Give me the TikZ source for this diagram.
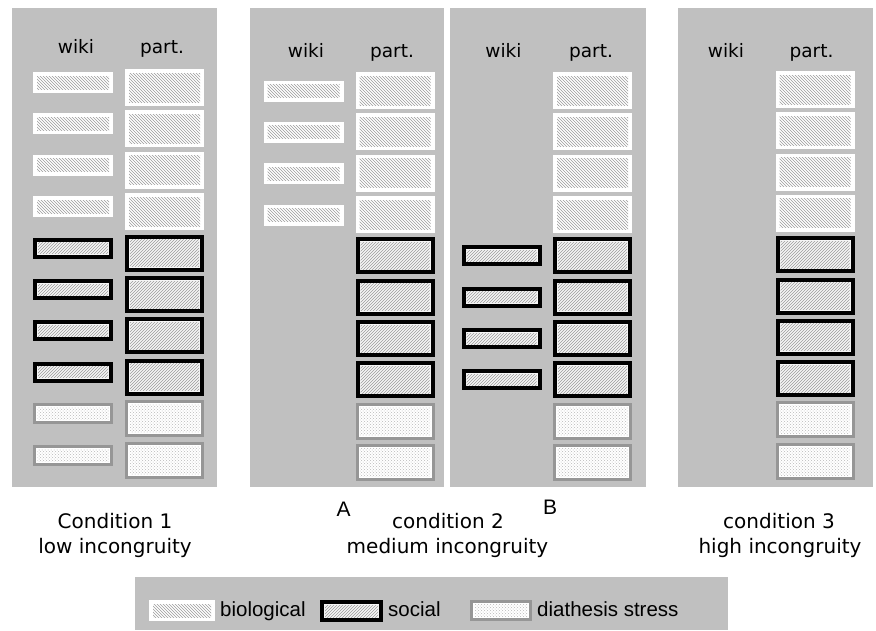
\documentclass[tikz,border=0pt]{standalone}
\usepackage{fontspec}
\setmainfont{DejaVu Sans}
\newfontfamily\arialf{Liberation Sans}
\usetikzlibrary{patterns}
\definecolor{panelgray}{RGB}{192,192,192}
\definecolor{diagray}{RGB}{150,150,150}
\definecolor{hatchgray}{RGB}{155,155,155}
\begin{document}
\begin{tikzpicture}[x=1pt,y=-1pt,
  panel/.style={fill=panelgray,draw=none},
  bio/.style={fill=white,draw=none,inner sep=0pt,
    path picture={\fill[pattern=north west lines,pattern color=hatchgray]
      ([shift={(4pt,-4pt)}]path picture bounding box.north west) rectangle
      ([shift={(-4pt,4pt)}]path picture bounding box.south east);}},
  soc/.style={fill=gray!8,draw=black,line width=4pt,inner sep=0pt,
    path picture={\fill[pattern=north east lines,pattern color=hatchgray]
      ([shift={(3pt,-3pt)}]path picture bounding box.north west) rectangle
      ([shift={(-3pt,3pt)}]path picture bounding box.south east);}},
  dia/.style={fill=white,draw=diagray,line width=3pt,inner sep=0pt,
    path picture={\fill[pattern=crosshatch dots,pattern color=gray!55]
      ([shift={(3pt,-3pt)}]path picture bounding box.north west) rectangle
      ([shift={(-3pt,3pt)}]path picture bounding box.south east);}},
  biopart/.style={bio,minimum width=79pt,minimum height=37pt},
  biowiki/.style={bio,minimum width=80pt,minimum height=21pt},
  socpart/.style={soc,minimum width=75pt,minimum height=33pt},
  socwiki/.style={soc,minimum width=76pt,minimum height=17pt},
  diapart/.style={dia,minimum width=76pt,minimum height=34pt},
  diawiki/.style={dia,minimum width=77pt,minimum height=18pt},
  head/.style={font=\fontsize{18.5}{22}\selectfont,anchor=base,inner sep=0pt},
  cond/.style={font=\fontsize{20}{24}\selectfont,anchor=base,inner sep=0pt},
  letter/.style={font=\arialf\fontsize{21}{24}\selectfont,anchor=center,inner sep=0pt},
  legtext/.style={font=\arialf\fontsize{20.5}{24}\selectfont,anchor=base west,inner sep=0pt}
]
\useasboundingbox (0,0) rectangle (876,630);
\fill[white] (0,0) rectangle (876,630);

% panels
\node[panel,minimum width=205pt,minimum height=479pt,inner sep=0pt,anchor=north west] (pan1) at (12,8) {};
\node[panel,minimum width=194pt,minimum height=479pt,inner sep=0pt,anchor=north west] (pan2a) at (250,8) {};
\node[panel,minimum width=196pt,minimum height=479pt,inner sep=0pt,anchor=north west] (pan2b) at (450,8) {};
\node[panel,minimum width=195pt,minimum height=479pt,inner sep=0pt,anchor=north west] (pan3) at (678,8) {};

% headers
\node[head] (h1w) at (76,53) {wiki};
\node[head] (h1p) at (162,53) {part.};
\node[head] (h2aw) at (306,57) {wiki};
\node[head] (h2ap) at (392,57) {part.};
\node[head] (h2bw) at (503.5,57) {wiki};
\node[head] (h2bp) at (591,57) {part.};
\node[head] (h3w) at (726,57) {wiki};
\node[head] (h3p) at (811.5,57) {part.};

% panel 1
\foreach \i in {0,...,3} {
  \node[biopart] (a\i) at (164.5,{87.5+41.4*\i}) {};
  \node[biowiki] (aw\i) at (73,{82.5+41.4*\i}) {};
}
\foreach \i in {4,...,7} {
  \node[socpart] (a\i) at (164.5,{87.5+41.4*\i}) {};
  \node[socwiki] (aw\i) at (73,{82.5+41.4*\i}) {};
}
\foreach \i in {8,9} {
  \node[diapart] (a\i) at (164.5,{87.5+41.4*\i}) {};
  \node[diawiki] (aw\i) at (73,{82.5+41.4*\i}) {};
}

% panel 2A
\foreach \i in {0,...,3} {
  \node[biopart] (b\i) at (395,{90.5+41.35*\i}) {};
  \node[biowiki] (bw\i) at (303.5,{91+41.35*\i}) {};
}
\foreach \i in {4,...,7} {
  \node[socpart] (b\i) at (395,{90.5+41.35*\i}) {};
}
\foreach \i in {8,9} {
  \node[diapart] (b\i) at (395,{90.5+41.35*\i}) {};
}

% panel 2B
\foreach \i in {0,...,3} {
  \node[biopart] (c\i) at (592.5,{90.5+41.35*\i}) {};
}
\foreach \i in {4,...,7} {
  \node[socpart] (c\i) at (592.5,{90.5+41.35*\i}) {};
  \node[socwiki] (cw\i) at (501.5,{90.5+41.35*\i}) {};
}
\foreach \i in {8,9} {
  \node[diapart] (c\i) at (592.5,{90.5+41.35*\i}) {};
}

% panel 3
\foreach \i in {0,...,3} {
  \node[biopart] (d\i) at (815,{89.5+41.3*\i}) {};
}
\foreach \i in {4,...,7} {
  \node[socpart] (d\i) at (815,{89.5+41.3*\i}) {};
}
\foreach \i in {8,9} {
  \node[diapart] (d\i) at (815,{89.5+41.3*\i}) {};
}

% condition labels
\node[cond] (c1a) at (115,528) {Condition 1};
\node[cond] (c1b) at (115,553) {low incongruity};
\node[cond] (c2a) at (448,528) {condition 2};
\node[cond] (c2b) at (447.5,553) {medium incongruity};
\node[cond] (c3a) at (779,528) {condition 3};
\node[cond] (c3b) at (780,553) {high incongruity};
\node[letter] (la) at (343.5,509.5) {A};
\node[letter] (lb) at (550,507.5) {B};

% legend
\node[panel,minimum width=593pt,minimum height=53pt,inner sep=0pt,anchor=north west] (leg) at (135,577) {};
\node[bio,minimum width=66pt,minimum height=21pt] (lgbio) at (182,610.5) {};
\node[legtext] (tbio) at (220,616.5) {biological};
\node[soc,minimum width=59pt,minimum height=18pt] (lgsoc) at (351.5,611) {};
\node[legtext] (tsoc) at (388,616.5) {social};
\node[dia,minimum width=59pt,minimum height=18pt] (lgdia) at (501,610.5) {};
\node[legtext] (tdia) at (537,616.5) {diathesis stress};
\end{tikzpicture}
\end{document}
